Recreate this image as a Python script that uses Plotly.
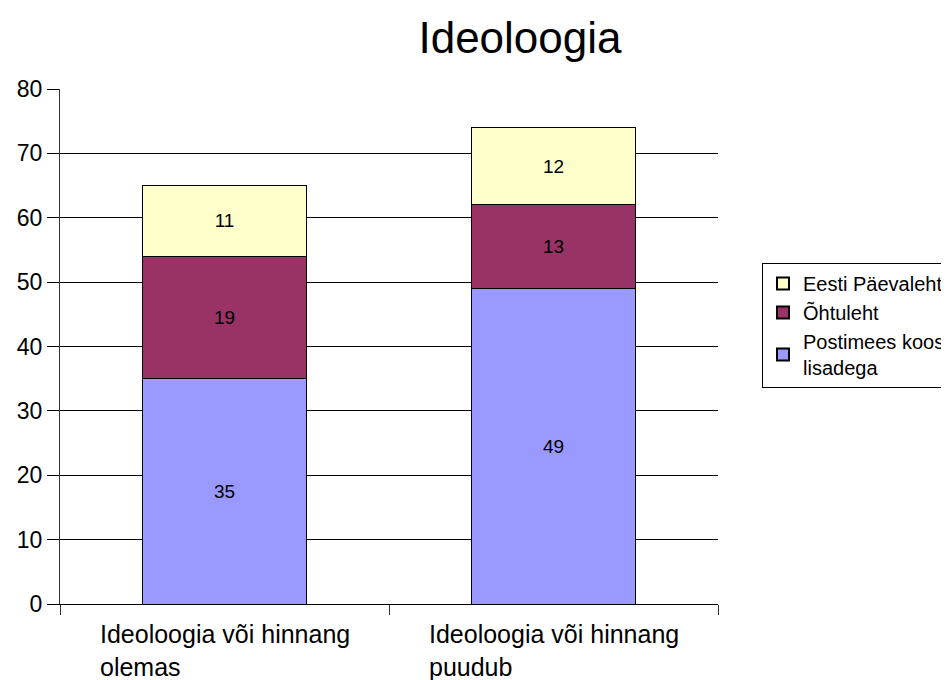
import plotly.graph_objects as go

categories = ["Ideoloogia või hinnang olemas", "Ideoloogia või hinnang puudub"]
cat_labels = ["Ideoloogia või hinnang<br>olemas", "Ideoloogia või hinnang<br>puudub"]
postimees = [35, 49]
ohtuleht = [19, 13]
eesti_paevaleht = [11, 12]

series = [
    ("Postimees koos<br>lisadega", postimees, "#9999FF"),
    ("Õhtuleht", ohtuleht, "#993366"),
    ("Eesti Päevaleht", eesti_paevaleht, "#FFFFCC"),
]

FONT = "Liberation Sans, Arial, sans-serif"
# page body has an 8px default margin; compensate
OFF = 8
L, T, R, B = 60 - OFF, 89 - OFF, 231 + OFF, 76 + OFF
PW, PH = 949 - L - R, 680 - T - B

fig = go.Figure()
for name, vals, color in series:
    fig.add_trace(go.Bar(
        x=categories, y=vals, name=name,
        marker=dict(color=color, line=dict(color="black", width=1)),
        text=[str(v) for v in vals], textposition="inside",
        insidetextanchor="middle", textangle=0,
        textfont=dict(color="black", size=19, family=FONT),
        width=0.5,
    ))

for cat, lab in zip(categories, cat_labels):
    fig.add_annotation(x=cat, y=0, xref="x", yref="y", text=lab,
                       showarrow=False, xanchor="center", yanchor="top",
                       align="left", yshift=-14,
                       font=dict(size=25, family=FONT, color="black"))

fig.update_layout(
    barmode="stack",
    width=949, height=680,
    margin=dict(l=L, r=R, t=T, b=B, autoexpand=False),
    paper_bgcolor="white", plot_bgcolor="white",
    font=dict(family=FONT, color="black"),
    title=dict(text="Ideoloogia", x=(520 - OFF) / 949, xanchor="center",
               y=1 - (38 - OFF) / 680, yanchor="middle",
               font=dict(size=44, family=FONT, color="black")),
    legend=dict(x=(762 - OFF - L) / PW, xanchor="left",
                y=(680 - B - (263 - OFF)) / PH, yanchor="top",
                traceorder="reversed", bordercolor="black", borderwidth=1,
                font=dict(size=20, family=FONT, color="black"),
                bgcolor="white", itemsizing="constant"),
    uniformtext=dict(mode="show", minsize=19),
    showlegend=True,
)
fig.update_yaxes(range=[0, 80], dtick=10, showgrid=True, gridcolor="black", gridwidth=1,
                 showline=True, linecolor="#333333", linewidth=1,
                 ticks="outside", ticklen=12, tickcolor="black", automargin=False,
                 tickfont=dict(size=23, family=FONT, color="black"), zeroline=False, fixedrange=True)
fig.update_xaxes(showline=True, linecolor="black", linewidth=1, automargin=False,
                 ticks="outside", tickson="boundaries", ticklen=10, tickcolor="#333333",
                 showticklabels=False, showgrid=False)

fig.write_html("out.html")
